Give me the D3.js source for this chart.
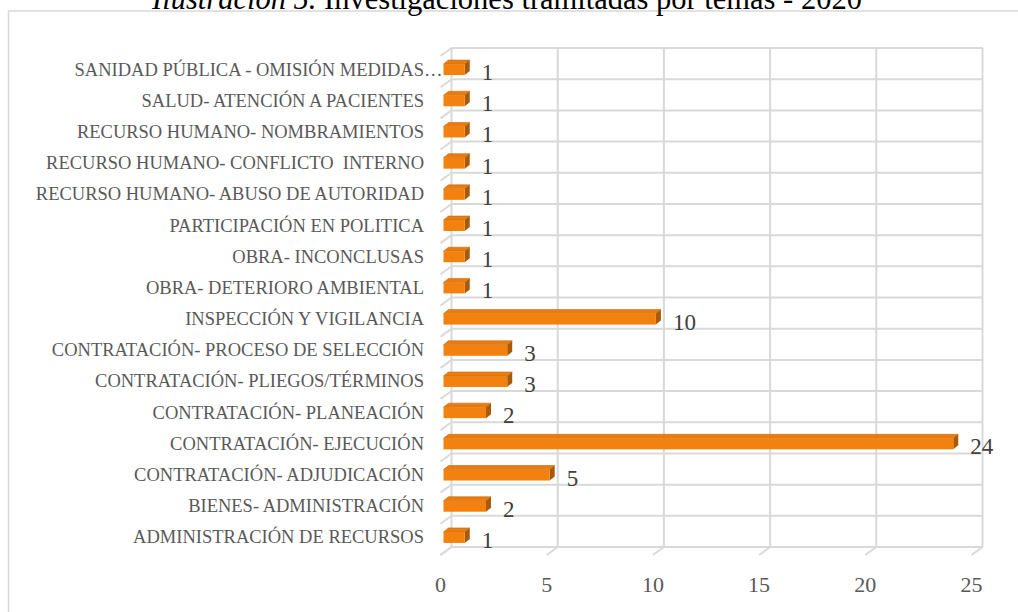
<!DOCTYPE html>
<html>
<head>
<meta charset="utf-8">
<script src="https://cdn.jsdelivr.net/npm/d3@7"></script>
<style>
  body { margin: 0; background: #fff; }
  text { font-family: "Liberation Serif", "Times New Roman", serif; white-space: pre; }
</style>
</head>
<body>
<div id="chart"></div>
<script>
// categories top to bottom, as in the picture
const categories = [
    "SANIDAD PÚBLICA - OMISIÓN MEDIDAS…",
    "SALUD- ATENCIÓN A PACIENTES",
    "RECURSO HUMANO- NOMBRAMIENTOS",
    "RECURSO HUMANO- CONFLICTO  INTERNO",
    "RECURSO HUMANO- ABUSO DE AUTORIDAD",
    "PARTICIPACIÓN EN POLITICA",
    "OBRA- INCONCLUSAS",
    "OBRA- DETERIORO AMBIENTAL",
    "INSPECCIÓN Y VIGILANCIA",
    "CONTRATACIÓN- PROCESO DE SELECCIÓN",
    "CONTRATACIÓN- PLIEGOS/TÉRMINOS",
    "CONTRATACIÓN- PLANEACIÓN",
    "CONTRATACIÓN- EJECUCIÓN",
    "CONTRATACIÓN- ADJUDICACIÓN",
    "BIENES- ADMINISTRACIÓN",
    "ADMINISTRACIÓN DE RECURSOS"
];
const values = [1, 1, 1, 1, 1, 1, 1, 1, 10, 3, 3, 2, 24, 5, 2, 1];
const xTicks = [0, 5, 10, 15, 20, 25];

const width = 1018, height = 612;

// back wall of the 3d plot
const plot = {left: 451.5, right: 982.5, top: 48, bottom: 547};
// offsets for the fake depth
const floorShift = {dx: -11, dy: 8};
const barShift = {dx: -8, dy: 6};
const barDepth = {dx: 5, dy: -4};
const barThick = 11;

const gridColor = "#d9d9d9";

const svg = d3.select("#chart")
    .append("svg")
    .attr("width", width)
    .attr("height", height);

// outer chart border
svg.append("rect")
    .attr("x", 8.5)
    .attr("y", 11)
    .attr("width", 1030)
    .attr("height", 620)
    .attr("fill", "none")
    .attr("stroke", gridColor)
    .attr("stroke-width", 1.5);

// title, its top is cut by the page edge like in the source
const title = svg.append("text")
    .attr("x", 507)
    .attr("y", 9)
    .attr("text-anchor", "middle")
    .style("font-size", "30.5px")
    .attr("fill", "#000");
title.append("tspan").style("font-style", "italic").text("Ilustración 5.");
title.append("tspan").text(" Investigaciones tramitadas por temas - 2020");

let x = d3.scaleLinear()
    .domain([0, 25])
    .range([plot.left, plot.right]);

let y = d3.scaleBand()
    .domain(categories)
    .range([plot.top, plot.bottom]);

// grid on the back wall
const grid = svg.append("g")
    .attr("stroke", gridColor)
    .attr("stroke-width", 2)
    .attr("fill", "none");

const rowEdges = categories.map(d => y(d)).concat([plot.bottom]);

grid.selectAll(".hline")
    .data(rowEdges)
    .enter()
    .append("line")
        .attr("x1", plot.left)
        .attr("x2", plot.right)
        .attr("y1", d => d)
        .attr("y2", d => d);

grid.selectAll(".vline")
    .data(xTicks)
    .enter()
    .append("line")
        .attr("x1", d => x(d))
        .attr("x2", d => x(d))
        .attr("y1", plot.top)
        .attr("y2", plot.bottom);

// left wall ticks
grid.selectAll(".ltick")
    .data(rowEdges)
    .enter()
    .append("line")
        .attr("x1", plot.left)
        .attr("y1", d => d)
        .attr("x2", plot.left + floorShift.dx)
        .attr("y2", d => d + floorShift.dy);

// floor ticks
grid.selectAll(".ftick")
    .data(xTicks)
    .enter()
    .append("line")
        .attr("x1", d => x(d))
        .attr("y1", plot.bottom)
        .attr("x2", d => x(d) + floorShift.dx)
        .attr("y2", plot.bottom + floorShift.dy);

// x tick labels
svg.selectAll(".xlabel")
    .data(xTicks)
    .enter()
    .append("text")
        .attr("x", d => x(d) + floorShift.dx)
        .attr("y", 584)
        .attr("text-anchor", "middle")
        .attr("dominant-baseline", "central")
        .style("font-size", "22px")
        .attr("fill", "#595959")
        .text(d => d);

// category labels
const labelX = 424;
const labelSize = "18.5px";
svg.selectAll(".ylabel")
    .data(categories)
    .enter()
    .append("text")
        .attr("x", labelX)
        .attr("y", d => y(d) + y.bandwidth() / 2 + barShift.dy)
        .attr("text-anchor", "end")
        .attr("dominant-baseline", "central")
        .style("font-size", labelSize)
        .attr("fill", "#595959")
        .text(d => d.replace("…", ""));

// truncated labels keep their ellipsis hanging past the edge
svg.selectAll(".ellip")
    .data(categories.filter(d => d.endsWith("…")))
    .enter()
    .append("text")
        .attr("x", labelX)
        .attr("y", d => y(d) + y.bandwidth() / 2 + barShift.dy)
        .attr("dominant-baseline", "central")
        .style("font-size", labelSize)
        .attr("fill", "#595959")
        .text("…");

// bars, each one a front face, a top face and a side face
const bars = svg.selectAll(".bar")
    .data(categories.map((c, i) => ({cat: c, val: values[i]})))
    .enter()
    .append("g");

function barBox(d) {
    const x0 = x(0) + barShift.dx;
    const x1 = x(d.val) + barShift.dx;
    const yc = y(d.cat) + y.bandwidth() / 2 + barShift.dy;
    return {x0: x0, x1: x1, y0: yc - barThick / 2, y1: yc + barThick / 2};
}

bars.append("path")
    .attr("d", function(d) {
        const b = barBox(d);
        return `M${b.x0},${b.y0} L${b.x1},${b.y0} L${b.x1 + barDepth.dx},${b.y0 + barDepth.dy} L${b.x0 + barDepth.dx},${b.y0 + barDepth.dy} Z`;
    })
    .attr("fill", "#e87c10")
    .attr("stroke", "#c86a0c")
    .attr("stroke-width", 0.6);

bars.append("path")
    .attr("d", function(d) {
        const b = barBox(d);
        return `M${b.x1},${b.y0} L${b.x1 + barDepth.dx},${b.y0 + barDepth.dy} L${b.x1 + barDepth.dx},${b.y1 + barDepth.dy} L${b.x1},${b.y1} Z`;
    })
    .attr("fill", "#a95a08");

bars.append("rect")
    .attr("x", d => barBox(d).x0)
    .attr("y", d => barBox(d).y0)
    .attr("width", d => barBox(d).x1 - barBox(d).x0)
    .attr("height", barThick)
    .attr("fill", "#f2810f");

// value labels
bars.append("text")
    .attr("x", d => barBox(d).x1 + 17)
    .attr("y", d => y(d.cat) + y.bandwidth() / 2 + barShift.dy + 3)
    .attr("dominant-baseline", "central")
    .style("font-size", "23px")
    .attr("fill", "#404040")
    .text(d => d.val);
</script>
</body>
</html>
